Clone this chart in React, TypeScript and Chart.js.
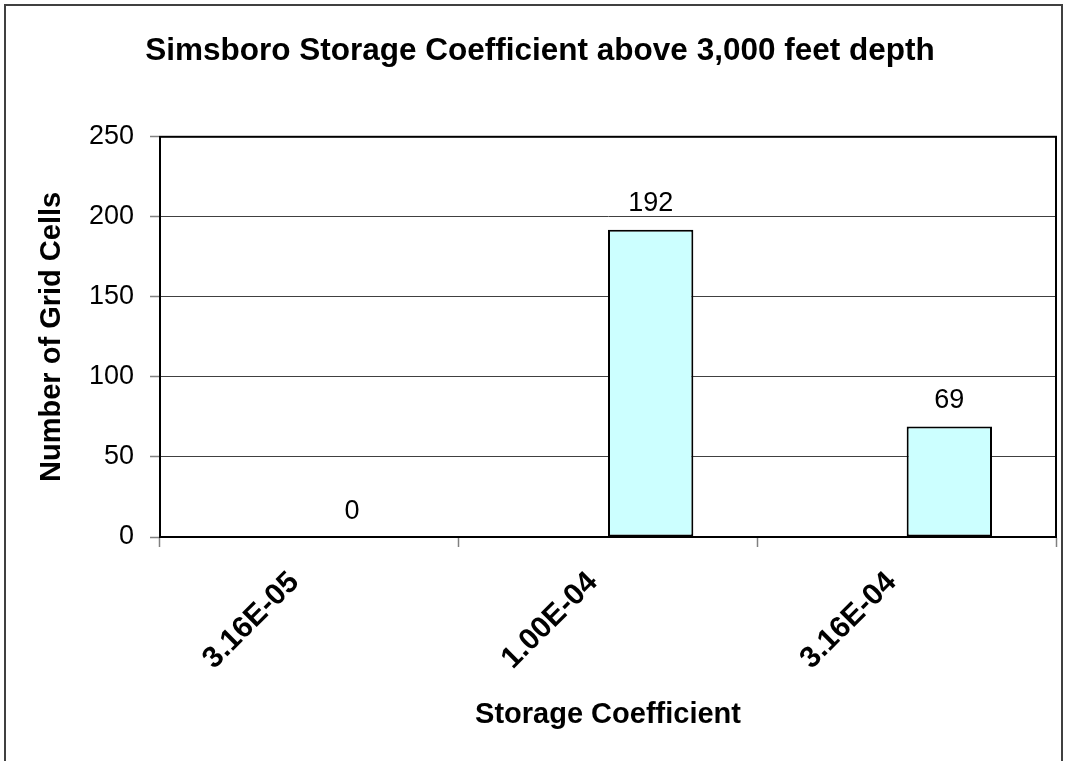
import { useEffect, useRef } from "react";
import { Chart, registerables } from "chart.js";

Chart.register(...registerables);

const categories = ["3.16E-05", "1.00E-04", "3.16E-04"];
const hiddenSeries: (number | null)[] = [null, null, null];
const cellCounts = [0, 192, 69];
const yTickValues = [0, 50, 100, 150, 200, 250];
const titleText = "Simsboro Storage Coefficient above 3,000 feet depth";
const xTitleText = "Storage Coefficient";
const yTitleText = "Number of Grid Cells";

const FONT = "'Liberation Sans', Arial, Helvetica, sans-serif";

const framePlugin = {
  id: "frame",
  beforeDraw(chart: any) {
    const ctx = chart.ctx;
    ctx.save();
    ctx.strokeStyle = "#404040";
    ctx.lineWidth = 2;
    ctx.beginPath();
    ctx.moveTo(5, 761);
    ctx.lineTo(5, 5);
    ctx.lineTo(1062, 5);
    ctx.lineTo(1062, 761);
    ctx.stroke();
    ctx.restore();
  },
};

const plotBorderPlugin = {
  id: "plotBorder",
  afterDatasetsDraw(chart: any) {
    const { ctx, chartArea } = chart;
    ctx.save();
    ctx.strokeStyle = "#000";
    ctx.lineWidth = 2;
    ctx.strokeRect(
      chartArea.left,
      chartArea.top,
      chartArea.right - chartArea.left,
      chartArea.bottom - chartArea.top
    );
    ctx.restore();
  },
};

const valueLabelPlugin = {
  id: "valueLabels",
  afterDatasetsDraw(chart: any) {
    const ctx = chart.ctx;
    const meta = chart.getDatasetMeta(1);
    const data = chart.data.datasets[1].data;
    ctx.save();
    ctx.fillStyle = "#000";
    ctx.font = `27px ${FONT}`;
    ctx.textAlign = "center";
    ctx.textBaseline = "alphabetic";
    meta.data.forEach((el: any, i: number) => {
      const v = data[i];
      if (v === null || v === undefined) return;
      ctx.fillText(String(v), el.x, el.y - 18.5);
    });
    ctx.restore();
  },
};

export default function App() {
  const canvasRef = useRef<HTMLCanvasElement | null>(null);

  useEffect(() => {
    if (!canvasRef.current) return;
    const chart = new Chart(canvasRef.current, {
      type: "bar",
      data: {
        labels: categories,
        datasets: [
          {
            label: "Series1",
            data: hiddenSeries,
            backgroundColor: "#CCFFFF",
            borderColor: "#000",
            borderWidth: 2,
            borderSkipped: false,
            categoryPercentage: 2 / 3.5,
            barPercentage: 1,
          },
          {
            label: "Series2",
            data: cellCounts,
            backgroundColor: "#CCFFFF",
            borderColor: "#000",
            borderWidth: 2,
            borderSkipped: false,
            categoryPercentage: 2 / 3.5,
            barPercentage: 1,
          },
        ],
      },
      options: {
        responsive: false,
        animation: false,
        layout: { padding: { left: 24, right: 9, top: 0, bottom: 0 } },
        plugins: {
          legend: { display: false },
          tooltip: { enabled: false },
          title: {
            display: true,
            text: titleText,
            color: "#000",
            font: { family: FONT, size: 31.5, weight: "bold" },
            padding: { top: 32, bottom: 67 },
          },
        },
        scales: {
          x: {
            type: "category",
            offset: true,
            grid: {
              display: true,
              drawOnChartArea: false,
              drawTicks: true,
              tickLength: 10,
              tickColor: "#808080",
              tickWidth: 1.5,
              offset: true,
            },
            border: { display: true, color: "#000", width: 2 },
            ticks: {
              autoSkip: false,
              maxRotation: 45,
              minRotation: 45,
              padding: 18,
              labelOffset: -15,
              color: "#000",
              font: { family: FONT, size: 30, weight: "bold" },
            },
            title: {
              display: true,
              text: xTitleText,
              color: "#000",
              font: { family: FONT, size: 29, weight: "bold" },
              padding: { top: 0, bottom: 29 },
            },
            afterFit: (s: any) => {
              s.height = 224;
            },
          },
          y: {
            min: 0,
            max: 250,
            afterBuildTicks: (s: any) => {
              s.ticks = yTickValues.map((v) => ({ value: v }));
            },
            grid: {
              color: "#404040",
              lineWidth: 1,
              tickLength: 10,
              tickColor: "#808080",
              tickWidth: 1.5,
            },
            border: { display: true, color: "#000", width: 2 },
            ticks: {
              padding: 16,
              color: "#000",
              font: { family: FONT, size: 27 },
            },
            title: {
              display: true,
              text: yTitleText,
              color: "#000",
              font: { family: FONT, size: 29, weight: "bold" },
              padding: { top: 11, bottom: 0 },
            },
            afterFit: (s: any) => {
              s.width = 136;
            },
          },
        },
      } as any,
      plugins: [framePlugin, plotBorderPlugin, valueLabelPlugin],
    });
    return () => chart.destroy();
  }, []);

  return (
    <div style={{ position: "fixed", left: 0, top: 0, width: 1065, height: 761, background: "#fff" }}>
      <canvas ref={canvasRef} width={1065} height={761} style={{ display: "block" }} />
    </div>
  );
}
